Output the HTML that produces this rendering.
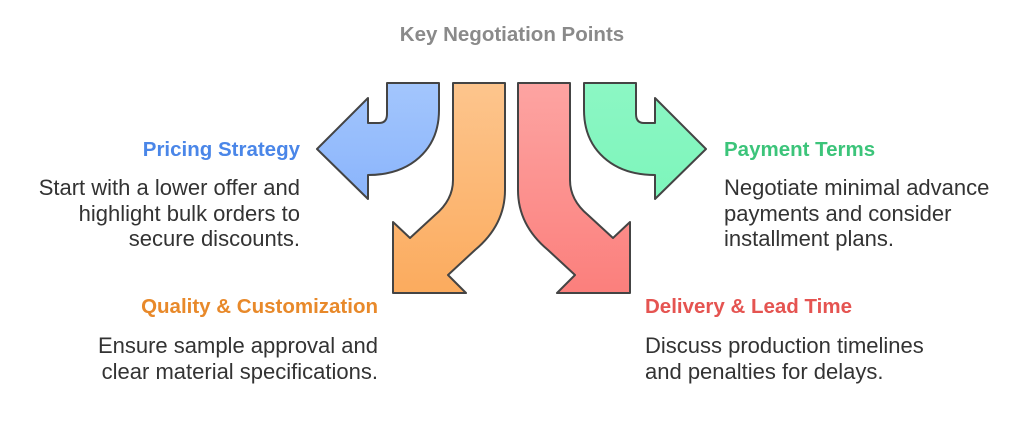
<!DOCTYPE html>
<html><head><meta charset="utf-8"><style>
body{margin:0;width:1024px;height:439px;background:#fff;overflow:hidden;position:relative;font-family:"Liberation Sans",Arial,sans-serif}
.t{position:absolute;white-space:nowrap}
.h{font-weight:bold;font-size:20.5px}
.b{font-size:22px;color:#333;line-height:25.5px}
.r{text-align:right}
</style></head><body>
<svg width="1024" height="439" style="position:absolute;left:0;top:0">
<defs>
<linearGradient id="gb" x1="0" y1="0" x2="0" y2="1"><stop offset="0" stop-color="#a3c6fd"/><stop offset="1" stop-color="#8ab4fb"/></linearGradient>
<linearGradient id="gg" x1="0" y1="0" x2="0" y2="1"><stop offset="0" stop-color="#8cf7c4"/><stop offset="1" stop-color="#7df5bb"/></linearGradient>
<linearGradient id="go" x1="0" y1="0" x2="0" y2="1"><stop offset="0" stop-color="#fdc58d"/><stop offset="1" stop-color="#fbab5e"/></linearGradient>
<linearGradient id="gr" x1="0" y1="0" x2="0" y2="1"><stop offset="0" stop-color="#fda4a2"/><stop offset="1" stop-color="#fb7f7c"/></linearGradient>
</defs>
<g stroke="#444" stroke-width="2" stroke-linejoin="round">
<path fill="url(#gb)" d="M387,83 L439,83 L439,110 C439,150 410,175 368,175 L368,199 L317,149 L368,98 L368,123 L379,123 Q387,123 387,114 Z"/>
<path fill="url(#gg)" d="M636,83 L584,83 L584,110 C584,150 613,175 655,175 L655,199 L706,149 L655,98 L655,123 L644,123 Q636,123 636,114 Z"/>
<path fill="url(#go)" d="M453,83 L505,83 L505,190 Q505,225 475,250 L448,275 L466,293 L393,293 L393,222 L410,238 L435,215 Q453,200 453,180 Z"/>
<path fill="url(#gr)" d="M570,83 L518,83 L518,190 Q518,225 548,250 L575,275 L557,293 L630,293 L630,222 L613,238 L588,215 Q570,200 570,180 Z"/>
</g>
</svg>
<div class="t h" style="left:0;width:1024px;text-align:center;top:23px;color:#8a8a8a">Key Negotiation Points</div>
<div class="t h r" style="right:724px;top:138px;color:#4a86e8">Pricing Strategy</div>
<div class="t b r" style="right:724px;top:175px">Start with a lower offer and<br>highlight bulk orders to<br>secure discounts.</div>
<div class="t h r" style="right:646px;top:295px;color:#e8892a">Quality &amp; Customization</div>
<div class="t b r" style="right:646px;top:333px">Ensure sample approval and<br>clear material specifications.</div>
<div class="t h" style="left:724px;top:138px;color:#3cc47a">Payment Terms</div>
<div class="t b" style="left:724px;top:175px">Negotiate minimal advance<br>payments and consider<br>installment plans.</div>
<div class="t h" style="left:645px;top:295px;color:#e55451">Delivery &amp; Lead Time</div>
<div class="t b" style="left:645px;top:333px">Discuss production timelines<br>and penalties for delays.</div>
</body></html>
